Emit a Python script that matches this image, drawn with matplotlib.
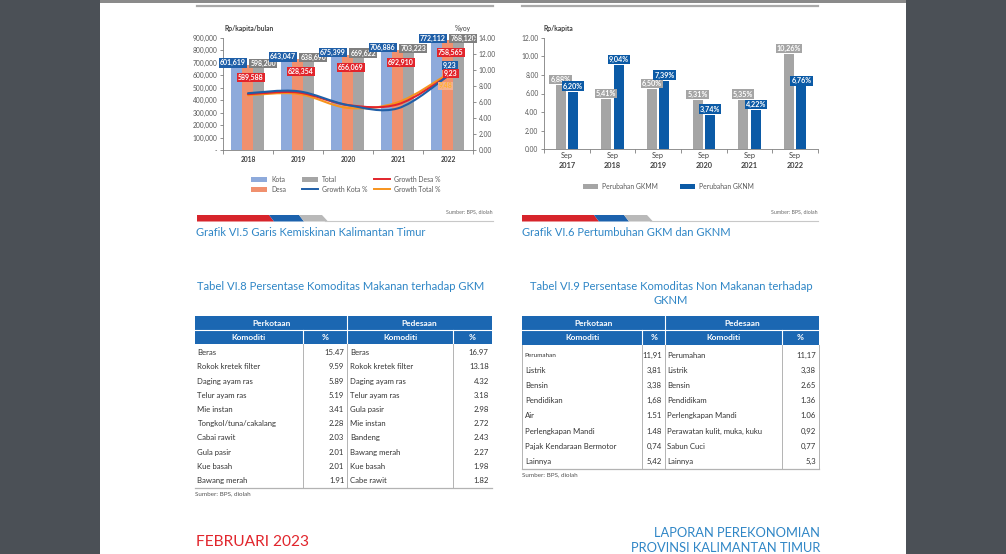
import matplotlib
matplotlib.use("Agg")
import matplotlib.pyplot as plt
from matplotlib.patches import Rectangle, Polygon, PathPatch
from matplotlib.path import Path
import numpy as np

plt.rcParams['font.family'] = ['Lato', 'DejaVu Sans']

W, H = 1006, 554

# Grafik VI.5 Garis Kemiskinan
years = ['2018', '2019', '2020', '2021', '2022']
kota = [601619, 643047, 675399, 706886, 772112]
desa = [589588, 628354, 656069, 692910, 758565]
total = [598200, 638690, 669622, 703223, 768120]
growth_kota = [7.08, 7.33, 5.6, 5.2, 9.23]
growth_desa = [6.96, 7.17, 5.6, 5.7, 9.23]
growth_total = [6.83, 7.0, 5.25, 5.95, 9.48]

# Grafik VI.6 Pertumbuhan GKM dan GKNM
gk_years = ['2017', '2018', '2019', '2020', '2021', '2022']
gkmm = [6.88, 5.41, 6.50, 5.31, 5.35, 10.26]
gknm = [6.20, 9.04, 7.39, 3.74, 4.22, 6.76]

# Tabel VI.8
mkn_kota = ['Beras', 'Rokok kretek filter', 'Daging ayam ras', 'Telur ayam ras', 'Mie instan',
            'Tongkol/tuna/cakalang', 'Cabai rawit', 'Gula pasir', 'Kue basah', 'Bawang merah']
mkn_kota_pct = ['15.47', '9.59', '5.89', '5.19', '3.41', '2.28', '2.03', '2.01', '2.01', '1.91']
mkn_desa = ['Beras', 'Rokok kretek filter', 'Daging ayam ras', 'Telur ayam ras', 'Gula pasir',
            'Mie instan', 'Bandeng', 'Bawang merah', 'Kue basah', 'Cabe rawit']
mkn_desa_pct = ['16.97', '13.18', '4.32', '3.18', '2.98', '2.72', '2.43', '2.27', '1.98', '1.82']

# Tabel VI.9
nm_kota = ['Perumahan', 'Listrik', 'Bensin', 'Pendidikan', 'Air', 'Perlengkapan Mandi',
           'Pajak Kendaraan Bermotor', 'Lainnya']
nm_kota_pct = ['11,91', '3,81', '3,38', '1,68', '1.51', '1.48', '0,74', '5,42']
nm_desa = ['Perumahan', 'Listrik', 'Bensin', 'Pendidikam', 'Perlengkapan Mandi',
           'Perawatan kulit, muka, kuku', 'Sabun Cuci', 'Lainnya']
nm_desa_pct = ['11,17', '3,38', '2.65', '1.36', '1.06', '0,92', '0,77', '5,3']

BLUE_T = '#1b67b2'
CAP = '#2f86c6'
GRID = '#7f7f7f'
TXT = '#404040'

fig = plt.figure(figsize=(W / 100, H / 100), dpi=100)
fig.patch.set_facecolor('#4b5056')

# page layer in pixel units
bg = fig.add_axes([0, 0, 1, 1])
bg.set_xlim(0, W)
bg.set_ylim(H, 0)
bg.axis('off')
bg.add_patch(Rectangle((100, 0), 806, H, fc='white', ec='none'))
bg.add_patch(Rectangle((100, 0), 806, 3, fc='#8a8a8a', ec='none'))
bg.plot([197, 493], [6, 6], color='#a9a9a9', lw=1.6)
bg.plot([522, 818], [6, 6], color='#a9a9a9', lw=1.6)


def px_axes(x0, y0, x1, y1):
    return fig.add_axes([x0 / W, 1 - y1 / H, (x1 - x0) / W, (y1 - y0) / H])


def deco(x0, x1, yt, yb):
    bg.add_patch(Polygon([(x0, yt), (x0 + 72, yt), (x0 + 77, yb), (x0, yb)], fc='#d7242b', ec='none'))
    bg.add_patch(Polygon([(x0 + 72, yt), (x0 + 102, yt), (x0 + 107, yb), (x0 + 77, yb)], fc='#1c62ad', ec='none'))
    bg.add_patch(Polygon([(x0 + 102, yt), (x0 + 125, yt), (x0 + 131, yb), (x0 + 107, yb)], fc='#b9b9b9', ec='none'))
    bg.plot([x0 + 128, x1], [yb - 0.5, yb - 0.5], color='#c8c8c8', lw=0.8)
    bg.text(x1, yt - 1, 'Sumber: BPS, diolah', fontsize=3.8, color='#6b6b6b', ha='right', va='bottom')


def smooth(ax, xs, ys, color):
    # excel-like smoothed line (bezier segments through the data points)
    pts = np.column_stack([xs, ys]).astype(float)
    verts = [pts[0]]
    codes = [Path.MOVETO]
    n = len(pts)
    for i in range(n - 1):
        p_prev = pts[i - 1] if i > 0 else pts[i]
        p_next = pts[i + 2] if i + 2 < n else pts[i + 1]
        c1 = pts[i] + (pts[i + 1] - p_prev) / 6
        c2 = pts[i + 1] - (p_next - pts[i]) / 6
        verts += [c1, c2, pts[i + 1]]
        codes += [Path.CURVE4] * 3
    ax.add_patch(PathPatch(Path(verts, codes), fc='none', ec=color, lw=1.5, capstyle='round'))


# ---------------- Grafik VI.5 ----------------
ax1 = px_axes(223, 37.7, 473, 150)
x = np.arange(len(years))
ax1.set_xlim(-0.5, 4.5)
ax1.set_ylim(0, 900000)
ax1.set_yticks(np.arange(0, 900001, 100000))
ax1.set_yticklabels(['-'] + ['{:,}'.format(v) for v in range(100000, 900001, 100000)])
ax1.set_xticks(x)
ax1.set_xticklabels(years, fontweight='bold')
ax1.set_xticks(np.arange(-0.5, 5, 1), minor=True)
ax1.tick_params(axis='x', which='major', length=0, pad=4, labelsize=4.8, labelcolor=TXT)
ax1.tick_params(axis='x', which='minor', length=3, color=GRID, width=0.6)
ax1.tick_params(axis='y', length=2, width=0.6, color=GRID, labelsize=4.8, labelcolor='#595959', pad=2)
ax1.patch.set_alpha(0)
for s in ['top', 'right']:
    ax1.spines[s].set_visible(False)
ax1.spines['left'].set_color(GRID)
ax1.spines['bottom'].set_color(GRID)
ax1.spines['left'].set_linewidth(0.6)
ax1.spines['bottom'].set_linewidth(0.6)

# bars sit on their own scale in the source chart (taller than the printed ticks)
axb = ax1.twinx()
axb.set_ylim(0, 776000)
axb.set_yticks([])
for s in axb.spines.values():
    s.set_visible(False)
bw = 0.22
axb.bar(x - bw, kota, bw, color='#8eaadb', zorder=2)
axb.bar(x, desa, bw, color='#f0906e', zorder=2)
axb.bar(x + bw, total, bw, color='#a5a5a5', zorder=2)
lab = dict(fontsize=5, fontweight='bold', color='white', ha='center', va='center',
           textcoords='offset points', zorder=6)
for i in range(len(years)):
    axb.annotate('{:,}'.format(kota[i]), (x[i] - bw, kota[i]), xytext=(-3, 0),
                 bbox=dict(boxstyle='square,pad=0.15', fc='#1f5fa8', ec='none'), **lab)
    axb.annotate('{:,}'.format(total[i]), (x[i] + bw, total[i]), xytext=(3, 0),
                 bbox=dict(boxstyle='square,pad=0.15', fc='#7f7f7f', ec='none'), **lab)
    axb.annotate('{:,}'.format(desa[i]), (x[i], desa[i]), xytext=(2, -9),
                 bbox=dict(boxstyle='square,pad=0.15', fc='#e2242b', ec='none'), **lab)

axr = ax1.twinx()
axr.set_ylim(0, 14)
axr.set_yticks(np.arange(0, 14.1, 2))
axr.set_yticklabels(['%.2f' % v for v in np.arange(0, 14.1, 2)])
axr.tick_params(axis='y', length=2, width=0.6, color=GRID, labelsize=4.8, labelcolor='#595959', pad=2)
for s in ['top', 'left', 'bottom']:
    axr.spines[s].set_visible(False)
axr.spines['right'].set_color(GRID)
axr.spines['right'].set_linewidth(0.6)
smooth(axr, x, growth_total, '#f7941d')
smooth(axr, x, growth_desa, '#e2242b')
smooth(axr, x, growth_kota, '#1f5fa8')
axr.annotate('9,23', (x[-1], growth_kota[-1]), xytext=(1.5, 7.5),
             bbox=dict(boxstyle='square,pad=0.15', fc='#1f5fa8', ec='none'), **lab)
axr.annotate('9,23', (x[-1], growth_desa[-1]), xytext=(2, 2),
             bbox=dict(boxstyle='square,pad=0.15', fc='#e2242b', ec='none'), **lab)
lab_o = dict(lab)
lab_o['color'] = '#ffb02e'
axr.annotate('9,48', (x[-1], growth_total[-1]), xytext=(-2, -8.5),
             bbox=dict(boxstyle='square,pad=0.1', fc='#f6b08f', ec='none'), **lab_o)

bg.text(225, 29, 'Rp/kapita/bulan', fontsize=4.9, fontweight='bold', color=TXT, va='center')
bg.text(455, 29, '%yoy', fontsize=4.9, color=TXT, va='center')

# legend 1
leg_fs = 4.9
bg.add_patch(Rectangle((251, 176.5), 16, 5, fc='#8eaadb', ec='none'))
bg.text(271, 179, 'Kota', fontsize=leg_fs, color='#595959', va='center')
bg.add_patch(Rectangle((251, 186.5), 16, 5, fc='#f0906e', ec='none'))
bg.text(271, 189, 'Desa', fontsize=leg_fs, color='#595959', va='center')
bg.add_patch(Rectangle((302, 176.5), 16, 5, fc='#a5a5a5', ec='none'))
bg.text(322, 179, 'Total', fontsize=leg_fs, color='#595959', va='center')
bg.plot([302, 318], [189, 189], color='#1f5fa8', lw=1.4)
bg.text(322, 189, 'Growth Kota %', fontsize=leg_fs, color='#595959', va='center')
bg.plot([374, 390], [179, 179], color='#e2242b', lw=1.4)
bg.text(394, 179, 'Growth Desa %', fontsize=leg_fs, color='#595959', va='center')
bg.plot([374, 390], [189, 189], color='#f7941d', lw=1.4)
bg.text(394, 189, 'Growth Total %', fontsize=leg_fs, color='#595959', va='center')

deco(197, 493, 215, 221.5)
bg.text(196, 233, 'Grafik VI.5 Garis Kemiskinan Kalimantan Timur', fontsize=8.0, color=CAP, va='center')

# ---------------- Grafik VI.6 ----------------
ax2 = px_axes(544, 37.7, 818, 149.3)
x2 = np.arange(len(gk_years))
ax2.set_xlim(-0.5, 5.5)
ax2.set_ylim(0, 12)
ax2.set_yticks(np.arange(0, 12.1, 2))
ax2.set_yticklabels(['%.2f' % v for v in np.arange(0, 12.1, 2)])
ax2.set_xticks(x2)
ax2.set_xticklabels(['Sep'] * len(gk_years))
ax2.set_xticks(np.arange(-0.5, 6, 1), minor=True)
ax2.tick_params(axis='x', which='major', length=0, pad=2, labelsize=5.3, labelcolor=TXT)
ax2.tick_params(axis='x', which='minor', length=3, color=GRID, width=0.6)
ax2.tick_params(axis='y', length=2, width=0.6, color=GRID, labelsize=4.8, labelcolor='#595959', pad=2)
ax2.patch.set_alpha(0)
for s in ['top', 'right']:
    ax2.spines[s].set_visible(False)
for s in ['left', 'bottom']:
    ax2.spines[s].set_color(GRID)
    ax2.spines[s].set_linewidth(0.6)
off = 0.138
bw2 = 0.22
ax2.bar(x2 - off, gkmm, bw2, color='#a5a5a5')
ax2.bar(x2 + off, gknm, bw2, color='#0b5aa6')
lab2 = dict(lab)
lab2['fontsize'] = 5.2
for i in range(len(gk_years)):
    ax2.text(x2[i], -1.75, gk_years[i], fontsize=5.3, fontweight='bold', color=TXT,
             ha='center', va='center')
    ax2.annotate(('%.2f%%' % gkmm[i]).replace('.', ','), (x2[i] - off, gkmm[i]), xytext=(0, 4),
                 bbox=dict(boxstyle='square,pad=0.15', fc='#a5a5a5', ec='none'), **lab2)
    ax2.annotate(('%.2f%%' % gknm[i]).replace('.', ','), (x2[i] + off, gknm[i]), xytext=(0, 4),
                 bbox=dict(boxstyle='square,pad=0.15', fc='#0b5aa6', ec='none'), **lab2)
bg.text(544, 29, 'Rp/kapita', fontsize=4.9, fontweight='bold', color=TXT, va='center')

bg.add_patch(Rectangle((583, 184), 15, 5, fc='#a5a5a5', ec='none'))
bg.text(602, 186.5, 'Perubahan GKMM', fontsize=leg_fs, color='#595959', va='center')
bg.add_patch(Rectangle((680, 184), 15, 5, fc='#0b5aa6', ec='none'))
bg.text(699, 186.5, 'Perubahan GKNM', fontsize=leg_fs, color='#595959', va='center')

deco(522, 818, 215, 221.5)
bg.text(522, 233, 'Grafik VI.6 Pertumbuhan GKM dan GKNM', fontsize=8.0, color=CAP, va='center')


# ---------------- tables ----------------
def table(xe, y0, h1, h2, rows_y0, row_h, left, left_pct, right, right_pct, border, fs=5.6, first_fs=None):
    yh = y0 + h1
    yd = yh + h2
    bottom = rows_y0 + row_h * len(left)
    bg.add_patch(Rectangle((xe[0], y0), xe[4] - xe[0], h1 + h2, fc=BLUE_T, ec='none'))
    bg.plot([xe[0], xe[4]], [yh, yh], color='white', lw=0.8)
    bg.plot([xe[2], xe[2]], [y0, yd], color='white', lw=0.8)
    for xv in [xe[1], xe[3]]:
        bg.plot([xv, xv], [yh, yd], color='white', lw=0.8)
    hd = dict(fontsize=6.0, fontweight='bold', color='white', ha='center', va='center')
    bg.text((xe[0] + xe[2]) / 2, y0 + h1 / 2, 'Perkotaan', **hd)
    bg.text((xe[2] + xe[4]) / 2, y0 + h1 / 2, 'Pedesaan', **hd)
    bg.text((xe[0] + xe[1]) / 2, yh + h2 / 2, 'Komoditi', **hd)
    bg.text((xe[1] + xe[2]) / 2, yh + h2 / 2, '%', **hd)
    bg.text((xe[2] + xe[3]) / 2, yh + h2 / 2, 'Komoditi', **hd)
    bg.text((xe[3] + xe[4]) / 2, yh + h2 / 2, '%', **hd)
    vx = [xe[1], xe[2], xe[3]] + ([xe[0], xe[4]] if border else [])
    for xv in vx:
        bg.plot([xv, xv], [yd, bottom], color='#b3b3b3', lw=0.7)
    bg.plot([xe[0], xe[4]], [bottom, bottom], color='#b3b3b3', lw=0.9)
    for i in range(len(left)):
        yc = rows_y0 + row_h * (i + 0.5)
        lfs = first_fs if (i == 0 and first_fs) else fs
        bg.text(xe[0] + 2.5, yc, left[i], fontsize=lfs, color='#333333', va='center')
        bg.text(xe[2] - 3, yc, left_pct[i], fontsize=fs, color='#333333', va='center', ha='right')
        bg.text(xe[2] + 2.5, yc, right[i], fontsize=fs, color='#333333', va='center')
        bg.text(xe[4] - 3, yc, right_pct[i], fontsize=fs, color='#333333', va='center', ha='right')
    bg.text(xe[0], bottom + 6, 'Sumber: BPS, diolah', fontsize=4.5, color='#555555', va='center')


bg.text(341, 286, 'Tabel VI.8 Persentase Komoditas Makanan terhadap GKM', fontsize=8.1, color=CAP,
        ha='center', va='center')
table([195, 302.7, 347.3, 453.3, 491.7], 316, 14, 14, 345.6, 14.2,
      mkn_kota, mkn_kota_pct, mkn_desa, mkn_desa_pct, border=False)

bg.text(671, 286, 'Tabel VI.9 Persentase Komoditas Non Makanan terhadap', fontsize=8.1, color=CAP,
        ha='center', va='center')
bg.text(671, 301, 'GKNM', fontsize=8.1, color=CAP, ha='center', va='center')
table([522.3, 642.3, 665, 781.7, 819], 316, 14, 14.7, 347.5, 15.2,
      nm_kota, nm_kota_pct, nm_desa, nm_desa_pct, border=True, first_fs=4.6)

bg.text(196, 542, 'FEBRUARI 2023', fontsize=11.2, color='#e1262d', va='center')
bg.text(820, 533, 'LAPORAN PEREKONOMIAN', fontsize=9.3, color=CAP, va='center', ha='right')
bg.text(820, 548, 'PROVINSI KALIMANTAN TIMUR', fontsize=9.3, color=CAP, va='center', ha='right')

fig.savefig('out.png', dpi=100, facecolor=fig.get_facecolor())
